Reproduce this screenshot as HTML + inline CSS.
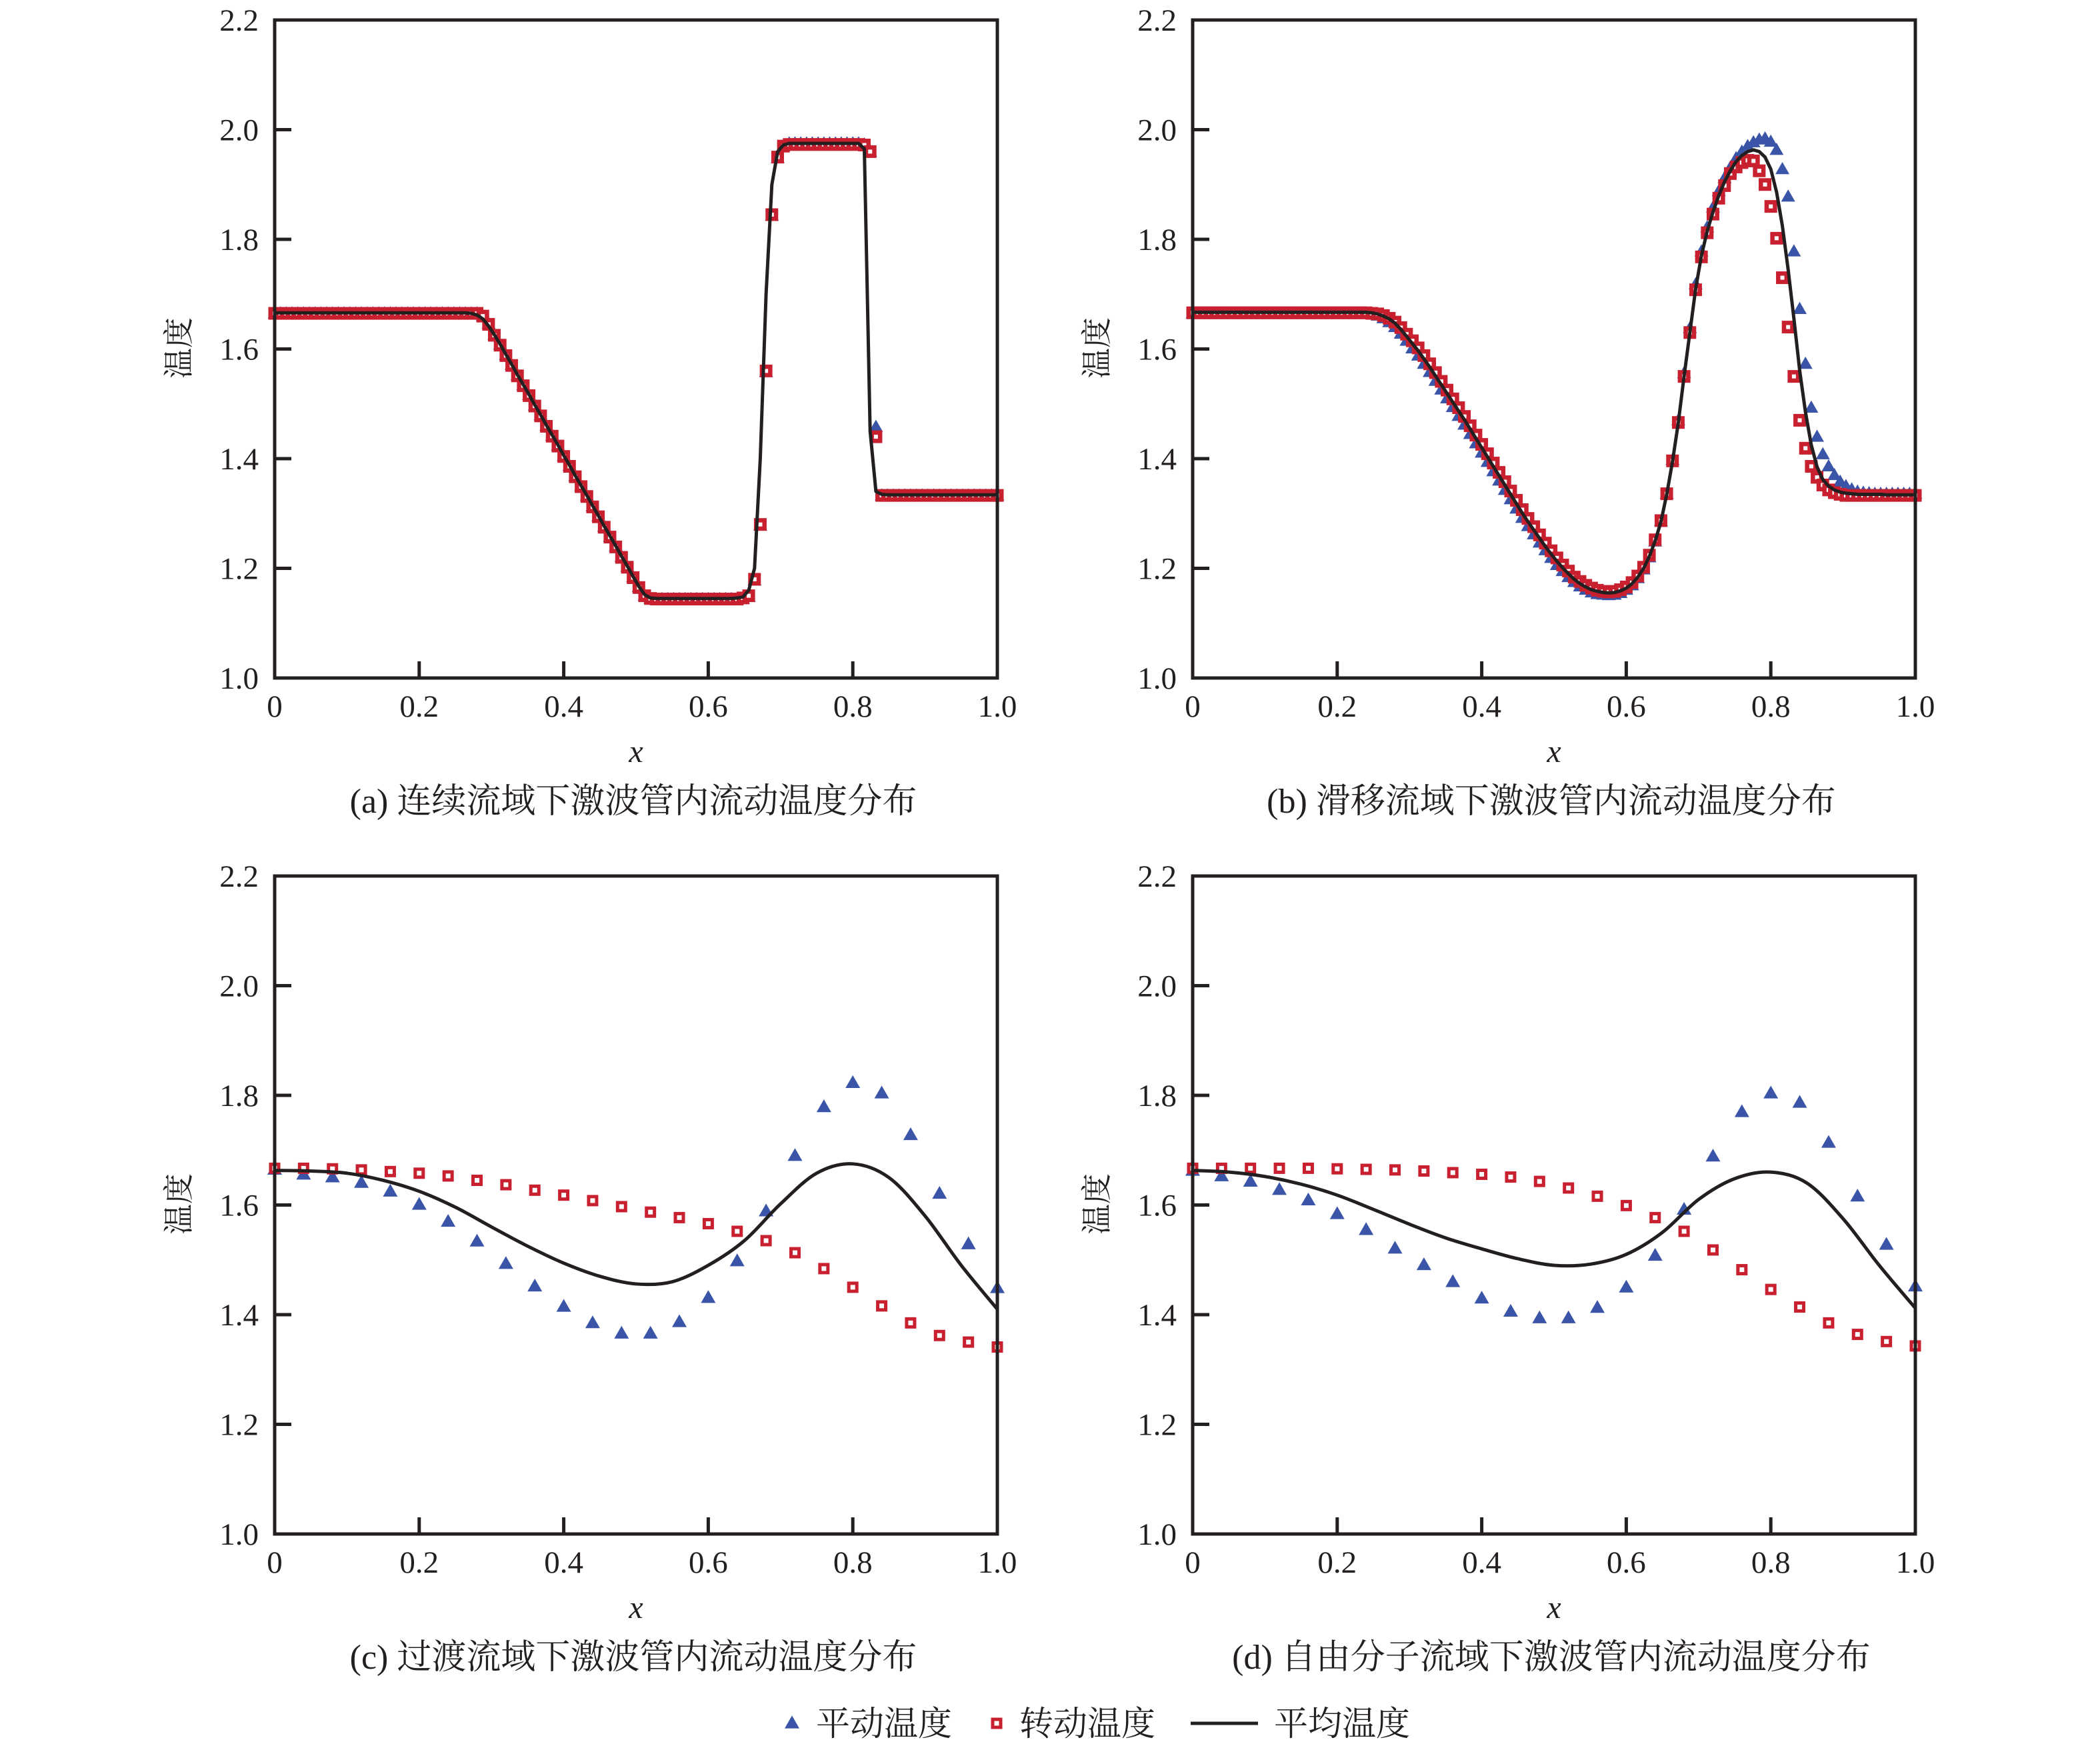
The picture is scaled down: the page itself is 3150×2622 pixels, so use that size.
<!DOCTYPE html>
<html><head><meta charset="utf-8">
<style>
html,body{margin:0;padding:0;background:#fff;}
svg{display:block;}
text{font-family:"Liberation Serif","Noto Serif CJK SC","Noto Sans CJK SC",serif;fill:#231f20;}
</style></head>
<body>
<svg id="fig" width="3150" height="2622" viewBox="0 0 3150 2622" xmlns="http://www.w3.org/2000/svg"></svg>
<script>
// ---------- data ----------
const xTicks=[0,0.2,0.4,0.6,0.8,1.0];
const xTickLabels=["0","0.2","0.4","0.6","0.8","1.0"];
const yTicks=[1.0,1.2,1.4,1.6,1.8,2.0,2.2];
const yTickLabels=["1.0","1.2","1.4","1.6","1.8","2.0","2.2"];
const denseStep=0.008;
const coarseStep=0.04;
const lineStep=0.05;
// panel a (126 pts, x=i*0.008)
const aTrans=[1.667,1.667,1.667,1.667,1.667,1.667,1.667,1.667,1.667,1.667,1.667,1.667,1.667,1.667,1.667,1.667,1.667,1.667,1.667,1.667,1.667,1.667,1.667,1.667,1.667,1.667,1.667,1.667,1.667,1.667,1.667,1.667,1.667,1.667,1.667,1.667,1.662,1.648,1.628,1.610,1.591,1.573,1.554,1.536,1.518,1.499,1.481,1.462,1.444,1.426,1.407,1.389,1.370,1.352,1.334,1.315,1.297,1.278,1.260,1.242,1.223,1.205,1.186,1.168,1.152,1.147,1.146,1.146,1.146,1.146,1.146,1.146,1.146,1.146,1.146,1.146,1.146,1.146,1.146,1.146,1.146,1.146,1.150,1.180,1.280,1.560,1.845,1.950,1.972,1.977,1.977,1.977,1.977,1.977,1.977,1.977,1.977,1.977,1.977,1.977,1.977,1.977,1.975,1.962,1.460,1.335,1.335,1.335,1.335,1.335,1.335,1.335,1.335,1.335,1.335,1.335,1.335,1.335,1.335,1.335,1.335,1.335,1.335,1.335,1.335,1.335];
const aRot=[1.665,1.665,1.665,1.665,1.665,1.665,1.665,1.665,1.665,1.665,1.665,1.665,1.665,1.665,1.665,1.665,1.665,1.665,1.665,1.665,1.665,1.665,1.665,1.665,1.665,1.665,1.665,1.665,1.665,1.665,1.665,1.665,1.665,1.665,1.665,1.665,1.660,1.645,1.625,1.607,1.588,1.570,1.551,1.533,1.515,1.496,1.478,1.459,1.441,1.423,1.404,1.386,1.367,1.349,1.331,1.312,1.294,1.275,1.257,1.239,1.220,1.202,1.183,1.165,1.150,1.145,1.144,1.144,1.144,1.144,1.144,1.144,1.144,1.144,1.144,1.144,1.144,1.144,1.144,1.144,1.144,1.146,1.150,1.180,1.280,1.560,1.845,1.950,1.970,1.973,1.973,1.973,1.973,1.973,1.973,1.973,1.973,1.973,1.973,1.973,1.973,1.973,1.972,1.960,1.440,1.333,1.333,1.333,1.333,1.333,1.333,1.333,1.333,1.333,1.333,1.333,1.333,1.333,1.333,1.333,1.333,1.333,1.333,1.333,1.333,1.333];
const aMean=[1.666,1.666,1.666,1.666,1.666,1.666,1.666,1.666,1.666,1.666,1.666,1.666,1.666,1.666,1.666,1.666,1.666,1.666,1.666,1.666,1.666,1.666,1.666,1.666,1.666,1.666,1.666,1.666,1.666,1.666,1.666,1.666,1.666,1.666,1.665,1.662,1.655,1.642,1.626,1.609,1.590,1.572,1.553,1.535,1.517,1.498,1.480,1.461,1.443,1.425,1.406,1.388,1.369,1.351,1.333,1.314,1.296,1.277,1.259,1.241,1.222,1.204,1.185,1.167,1.152,1.146,1.145,1.145,1.145,1.145,1.145,1.145,1.145,1.145,1.145,1.145,1.145,1.145,1.145,1.145,1.146,1.148,1.160,1.200,1.400,1.700,1.900,1.960,1.972,1.975,1.975,1.975,1.975,1.975,1.975,1.975,1.975,1.975,1.975,1.975,1.975,1.975,1.965,1.450,1.340,1.335,1.334,1.334,1.334,1.334,1.334,1.334,1.334,1.334,1.334,1.334,1.334,1.334,1.334,1.334,1.334,1.334,1.334,1.334,1.334,1.334];
// panel b
const bMean=[1.667,1.667,1.667,1.667,1.667,1.667,1.667,1.667,1.667,1.667,1.667,1.667,1.667,1.667,1.667,1.667,1.667,1.667,1.667,1.667,1.667,1.667,1.667,1.667,1.667,1.667,1.667,1.667,1.667,1.667,1.667,1.666,1.664,1.660,1.655,1.647,1.636,1.623,1.610,1.597,1.582,1.567,1.551,1.535,1.519,1.503,1.487,1.471,1.454,1.437,1.420,1.403,1.386,1.369,1.352,1.335,1.318,1.301,1.285,1.270,1.255,1.240,1.226,1.213,1.201,1.190,1.180,1.172,1.166,1.161,1.158,1.156,1.155,1.156,1.159,1.164,1.172,1.184,1.200,1.222,1.250,1.285,1.335,1.395,1.465,1.550,1.630,1.710,1.770,1.815,1.850,1.880,1.905,1.925,1.942,1.953,1.960,1.963,1.960,1.950,1.928,1.886,1.825,1.745,1.655,1.560,1.485,1.425,1.385,1.362,1.350,1.343,1.339,1.337,1.336,1.335,1.335,1.335,1.335,1.335,1.334,1.334,1.334,1.334,1.334,1.334];
const bTrans=[1.667,1.667,1.667,1.667,1.667,1.667,1.667,1.667,1.667,1.667,1.667,1.667,1.667,1.667,1.667,1.667,1.667,1.667,1.667,1.667,1.667,1.667,1.667,1.667,1.667,1.667,1.667,1.667,1.667,1.667,1.667,1.666,1.663,1.658,1.651,1.642,1.630,1.617,1.603,1.590,1.575,1.560,1.544,1.528,1.512,1.496,1.480,1.464,1.447,1.430,1.413,1.396,1.379,1.362,1.345,1.328,1.311,1.294,1.279,1.264,1.249,1.235,1.221,1.208,1.197,1.186,1.177,1.169,1.163,1.158,1.155,1.154,1.153,1.154,1.157,1.163,1.171,1.184,1.200,1.222,1.251,1.288,1.338,1.400,1.472,1.558,1.640,1.720,1.780,1.824,1.860,1.890,1.914,1.933,1.950,1.962,1.972,1.979,1.984,1.986,1.980,1.965,1.930,1.880,1.780,1.675,1.575,1.495,1.442,1.410,1.388,1.372,1.360,1.352,1.346,1.342,1.340,1.339,1.338,1.338,1.338,1.338,1.338,1.338,1.338,1.338];
const bRot=[1.666,1.666,1.666,1.666,1.666,1.666,1.666,1.666,1.666,1.666,1.666,1.666,1.666,1.666,1.666,1.666,1.666,1.666,1.666,1.666,1.666,1.666,1.666,1.666,1.666,1.666,1.666,1.666,1.666,1.666,1.666,1.665,1.664,1.661,1.656,1.649,1.639,1.627,1.615,1.602,1.588,1.573,1.557,1.541,1.525,1.509,1.493,1.477,1.460,1.443,1.426,1.409,1.392,1.375,1.358,1.341,1.324,1.307,1.291,1.276,1.261,1.246,1.232,1.219,1.206,1.195,1.184,1.176,1.169,1.164,1.160,1.158,1.157,1.158,1.161,1.166,1.174,1.186,1.202,1.224,1.252,1.287,1.336,1.396,1.466,1.550,1.630,1.708,1.768,1.812,1.846,1.875,1.898,1.920,1.932,1.940,1.944,1.943,1.925,1.900,1.860,1.802,1.730,1.640,1.550,1.470,1.419,1.386,1.366,1.352,1.343,1.338,1.335,1.333,1.333,1.333,1.333,1.333,1.333,1.333,1.333,1.333,1.333,1.333,1.333,1.333];
// panel c (26 pts, x=i*0.04); line 21 pts (x=i*0.05)
const cTrans=[1.667,1.658,1.653,1.643,1.627,1.603,1.572,1.536,1.495,1.454,1.417,1.387,1.368,1.368,1.389,1.433,1.500,1.591,1.692,1.781,1.825,1.806,1.730,1.623,1.531,1.451];
const cRot=[1.667,1.667,1.666,1.664,1.661,1.658,1.653,1.645,1.637,1.627,1.618,1.608,1.597,1.587,1.577,1.566,1.552,1.535,1.513,1.484,1.450,1.416,1.385,1.362,1.350,1.341];
const cMean=[1.663,1.662,1.658,1.645,1.625,1.596,1.560,1.525,1.494,1.470,1.456,1.460,1.490,1.535,1.602,1.658,1.675,1.650,1.580,1.490,1.410];
// panel d
const dTrans=[1.665,1.655,1.645,1.630,1.611,1.586,1.557,1.523,1.493,1.462,1.432,1.408,1.396,1.396,1.415,1.452,1.510,1.594,1.691,1.772,1.806,1.789,1.716,1.618,1.530,1.454];
const dRot=[1.667,1.667,1.667,1.667,1.667,1.666,1.665,1.664,1.662,1.659,1.656,1.651,1.643,1.631,1.616,1.599,1.577,1.552,1.518,1.482,1.446,1.414,1.385,1.364,1.351,1.343];
const dMean=[1.663,1.660,1.652,1.638,1.618,1.592,1.565,1.540,1.520,1.502,1.490,1.492,1.510,1.550,1.610,1.648,1.660,1.640,1.575,1.490,1.412];
const captions=["(a) 连续流域下激波管内流动温度分布","(b) 滑移流域下激波管内流动温度分布","(c) 过渡流域下激波管内流动温度分布","(d) 自由分子流域下激波管内流动温度分布"];
const legendLabels=["平动温度","转动温度","平均温度"];

// ---------- drawing ----------
const NS="http://www.w3.org/2000/svg";
const svg=document.getElementById('fig');
const BLUE="#3a55a8", RED="#c8202f", BLACK="#231f20";
function mk(tag,attrs,parent){const e=document.createElementNS(NS,tag);for(const k in attrs)e.setAttribute(k,attrs[k]);(parent||svg).appendChild(e);return e;}

function triangle(g,cx,cy,s){
  const h=s*0.87;
  const e=mk('polygon',{points:`${cx-s/2},${cy+h/2} ${cx+s/2},${cy+h/2} ${cx},${cy-h/2}`,fill:BLUE},g);
  
  
}
function square(g,cx,cy,s,sw){
  const e=mk('rect',{x:cx-s/2+sw/2,y:cy-s/2+sw/2,width:s-sw,height:s-sw,fill:'#fff',stroke:RED,'stroke-width':sw},g);
  
  
}
function smoothPath(pts){
  let d=`M${pts[0][0]},${pts[0][1]}`;
  for(let i=0;i<pts.length-1;i++){
    const p0=pts[Math.max(0,i-1)],p1=pts[i],p2=pts[i+1],p3=pts[Math.min(pts.length-1,i+2)];
    const c1=[p1[0]+(p2[0]-p0[0])/6,p1[1]+(p2[1]-p0[1])/6];
    const c2=[p2[0]-(p3[0]-p1[0])/6,p2[1]-(p3[1]-p1[1])/6];
    d+=` C${c1[0]},${c1[1]} ${c2[0]},${c2[1]} ${p2[0]},${p2[1]}`;
  }
  return d;
}

function panel(name,L,T,trans,rot,mean,mStep,lineSt,smooth,caption){
  const W=1084,H=987,R=L+W,B=T+H;
  const xs=v=>L+v*W;
  const ys=v=>B-(v-1.0)/1.2*H;
  const g=mk('g',{});
  
  
  const cid=name+'-clip';
  const cp=mk('clipPath',{id:cid},g);mk('rect',{x:L-15,y:T,width:W+30,height:H},cp);
  const plot=mk('g',{'clip-path':`url(#${cid})`},g);
  
  
  trans.forEach((v,i)=>triangle(plot,xs(i*mStep),ys(v),smooth?22:21));
  rot.forEach((v,i)=>square(plot,xs(i*mStep),ys(v),smooth?17:19,smooth?5:6.5));
  const pts=mean.map((v,i)=>[xs(i*lineSt),ys(v)]);
  let d=smooth?smoothPath(pts):'M'+pts.map(p=>p[0].toFixed(1)+','+p[1].toFixed(1)).join(' L');
  const ln=mk('path',{d:d,fill:'none',stroke:BLACK,'stroke-width':5,'stroke-linejoin':'round'},plot);
  
  
  const fr=mk('rect',{x:L,y:T,width:W,height:H,fill:'none',stroke:BLACK,'stroke-width':5},g);
  
  
  yTicks.forEach((v,i)=>{
    if(i>0&&i<yTicks.length-1){mk('line',{x1:L,x2:L+25,y1:ys(v),y2:ys(v),stroke:BLACK,'stroke-width':5},g);}
    const t=mk('text',{x:L-24,y:ys(v)+16,'text-anchor':'end','font-size':47},g);
    t.textContent=yTickLabels[i];
    
    
  });
  xTicks.forEach((v,i)=>{
    if(i>0&&i<xTicks.length-1){mk('line',{x1:xs(v),x2:xs(v),y1:B,y2:B-25,stroke:BLACK,'stroke-width':5},g);}
    const t=mk('text',{x:xs(v),y:B+58,'text-anchor':'middle','font-size':47},g);
    t.textContent=xTickLabels[i];
    
    
  });
  const xl=mk('text',{x:L+W/2,y:B+126,'text-anchor':'middle','font-size':48,'font-style':'italic'},g);
  xl.textContent='x';
  
  
  const yl=mk('text',{x:0,y:0,'text-anchor':'middle','font-size':46,transform:`translate(${L-128},${T+492}) rotate(-90)`},g);
  yl.textContent='温度';
  
  
  const cap=mk('text',{x:L+W/2-4,y:B+202,'text-anchor':'middle','font-size':52},g);
  cap.textContent=caption;
  
  
}
panel('panel-a',412,30,aTrans,aRot,aMean,denseStep,denseStep,false,captions[0]);
panel('panel-b',1789,30,bTrans,bRot,bMean,denseStep,denseStep,false,captions[1]);
panel('panel-c',412,1314,cTrans,cRot,cMean,coarseStep,lineStep,true,captions[2]);
panel('panel-d',1789,1314,dTrans,dRot,dMean,coarseStep,lineStep,true,captions[3]);

const lg=mk('g',{});


triangle(lg,1188,2583,22);
square(lg,1495,2585,17,5);
const ll=mk('line',{x1:1786,x2:1887,y1:2585,y2:2585,stroke:BLACK,'stroke-width':5},lg);


[[1224,0],[1529,1],[1911,2]].forEach(([x,i])=>{
  const t=mk('text',{x:x,y:2603,'font-size':51},lg);
  t.textContent=legendLabels[i];
  
  
});
</script>
</body></html>
